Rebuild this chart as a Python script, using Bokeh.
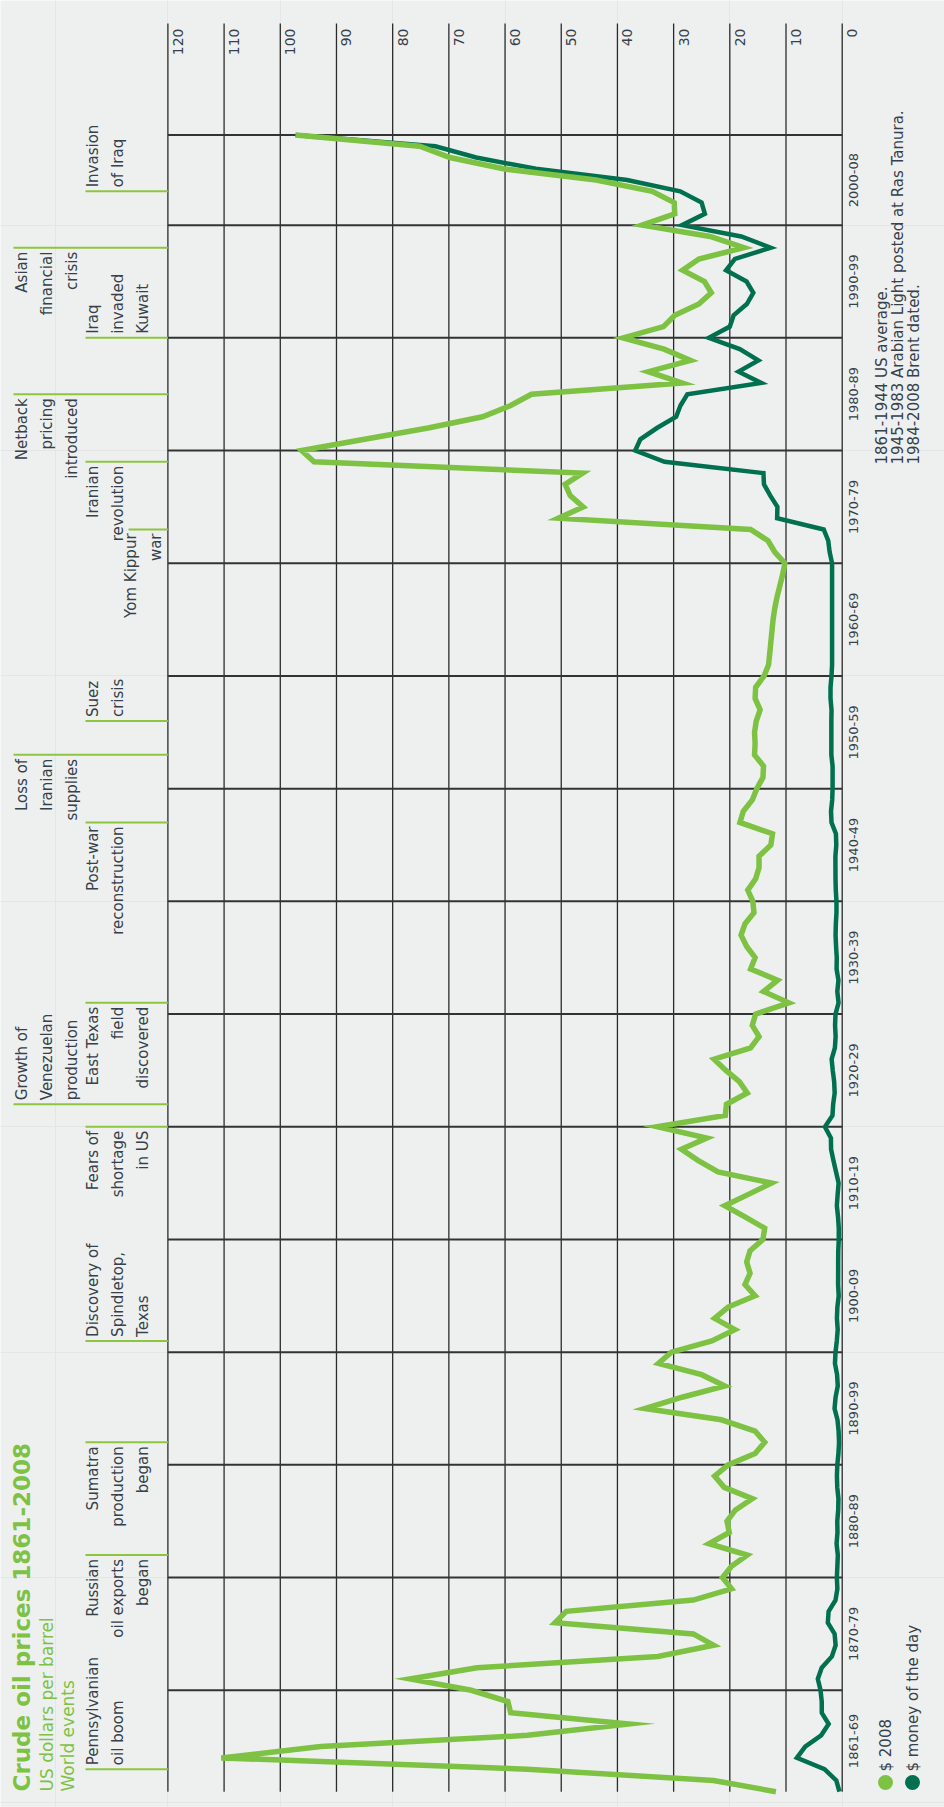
import math
from bokeh.plotting import figure
from bokeh.models import Range1d, ColumnDataSource
from bokeh.core.properties import value
from bokeh.embed import file_html
from bokeh.resources import INLINE

# ---------------- data ----------------
years = list(range(1861, 2009))

usd_2008 = [
    11.8, 22.9, 56.0, 110.5, 92.8, 56.0, 38.0, 59.0, 59.5,            # 1861-69
    66.0, 76.9, 65.0, 32.8, 22.9, 26.5, 51.1, 49.1, 26.5, 19.7,       # 1870-79
    21.3, 19.7, 16.9, 23.7, 20.1, 20.5, 19.0, 16.0, 21.0, 22.7,       # 1880-89
    20.3, 15.5, 13.8, 15.5, 21.5, 35.1, 28.5, 20.9, 25.0, 32.7,       # 1890-99
    30.4, 23.2, 19.1, 22.7, 20.3, 15.5, 17.3, 16.4, 17.0, 16.4,       # 1900-09
    14.1, 13.8, 17.3, 20.9, 16.7, 12.6, 22.1, 25.6, 28.6, 24.1,       # 1910-19
    32.9, 20.8, 20.6, 16.9, 18.3, 20.7, 22.8, 16.3, 14.8, 16.0,       # 1920-29
    15.4, 9.5, 14.0, 11.5, 16.3, 15.5, 17.0, 18.0, 17.3, 15.7,        # 1930-39
    15.9, 16.8, 15.4, 14.8, 14.8, 12.7, 12.4, 18.2, 17.6, 16.0,       # 1940-49
    15.2, 14.1, 14.0, 15.6, 15.5, 15.6, 15.3, 14.6, 15.5, 15.4,       # 1950-59
    13.9, 13.1, 12.9, 12.7, 12.5, 12.3, 12.0, 11.6, 11.1, 10.6,       # 1960-69
    10.2, 12.0, 13.2, 16.3, 50.5, 46.1, 48.4, 49.3, 46.2, 94.0,       # 1970-79
    96.2, 85.0, 73.7, 64.0, 59.0, 55.3, 28.5, 34.5, 27.0, 31.7,       # 1980-89
    39.0, 31.8, 29.8, 25.5, 23.3, 24.5, 28.4, 25.5, 17.5, 23.5,       # 1990-99
    35.6, 29.8, 29.9, 33.8, 43.8, 60.3, 69.8, 75.2, 97.3,             # 2000-08
]

usd_money = [
    0.49, 1.05, 3.15, 8.06, 6.59, 3.74, 2.41, 3.63, 3.64,             # 1861-69
    3.86, 4.34, 3.64, 1.83, 1.17, 1.35, 2.56, 2.42, 1.19, 0.86,       # 1870-79
    0.95, 0.86, 0.78, 1.00, 0.84, 0.88, 0.71, 0.67, 0.88, 0.94,       # 1880-89
    0.87, 0.67, 0.56, 0.64, 0.84, 1.36, 1.18, 0.79, 0.91, 1.29,       # 1890-99
    1.19, 0.96, 0.80, 0.94, 0.86, 0.62, 0.73, 0.72, 0.72, 0.70,       # 1900-09
    0.61, 0.61, 0.74, 0.95, 0.81, 0.64, 1.10, 1.56, 1.98, 2.01,       # 1910-19
    3.07, 1.73, 1.61, 1.34, 1.43, 1.68, 1.88, 1.30, 1.17, 1.27,       # 1920-29
    1.19, 0.65, 0.87, 0.67, 1.00, 0.97, 1.09, 1.18, 1.13, 1.02,       # 1930-39
    1.02, 1.14, 1.19, 1.20, 1.21, 1.05, 1.12, 1.90, 1.99, 1.78,       # 1940-49
    1.71, 1.71, 1.71, 1.93, 1.93, 1.93, 1.93, 1.90, 2.08, 2.08,       # 1950-59
    1.90, 1.80, 1.80, 1.80, 1.80, 1.80, 1.80, 1.80, 1.80, 1.80,       # 1960-69
    1.80, 2.24, 2.48, 3.29, 11.58, 11.53, 12.80, 13.92, 14.02, 31.61, # 1970-79
    36.83, 35.93, 32.97, 29.55, 28.78, 27.56, 14.43, 18.44, 14.92, 18.23,  # 1980-89
    23.73, 20.00, 19.32, 16.97, 15.82, 17.02, 20.67, 19.09, 12.72, 17.97,  # 1990-99
    28.50, 24.44, 25.02, 28.83, 38.27, 54.52, 65.14, 72.39, 97.26,         # 2000-08
]

value_ticks = [0, 10, 20, 30, 40, 50, 60, 70, 80, 90, 100, 110, 120]
value_labels = ["0", "10", "20", "30", "40", "50", "60", "70", "80", "90", "100", "110", "120"]

decade_edges = [1861, 1870, 1880, 1890, 1900, 1910, 1920, 1930, 1940, 1950, 1960, 1970, 1980, 1990, 2000, 2008]
decade_labels = ["1861-69", "1870-79", "1880-89", "1890-99", "1900-09", "1910-19", "1920-29",
                 "1930-39", "1940-49", "1950-59", "1960-69", "1970-79", "1980-89", "1990-99", "2000-08"]

event_years = [1863, 1882, 1892, 1901, 1922, 1920, 1931, 1947, 1953, 1956, 1973, 1979, 1985, 1990, 1998, 2003]
event_labels = [
    "Pennsylvanian\noil boom",
    "Russian\noil exports\nbegan",
    "Sumatra\nproduction\nbegan",
    "Discovery of\nSpindletop,\nTexas",
    "Growth of\nVenezuelan\nproduction",
    "Fears of\nshortage\nin US",
    "East Texas\nfield\ndiscovered",
    "Post-war\nreconstruction",
    "Loss of\nIranian\nsupplies",
    "Suez\ncrisis",
    "Yom Kippur\nwar",
    "Iranian\nrevolution",
    "Netback\npricing\nintroduced",
    "Iraq\ninvaded\nKuwait",
    "Asian\nfinancial\ncrisis",
    "Invasion\nof Iraq",
]

title_text = "Crude oil prices 1861-2008"
subtitle_text = "US dollars per barrel"
events_heading = "World events"
legend_labels = ["$ 2008", "$ money of the day"]
note_lines = ["1861-1944 US average.",
              "1945-1983 Arabian Light posted at Ras Tanura.",
              "1984-2008 Brent dated."]

# ---------------- layout / style ----------------
event_row = [0, 0, 0, 0, 1, 0, 0, 0, 1, 0, 2, 0, 1, 0, 1, 0]
event_side = ["above", "below", "below", "above", "above", "below", "below", "below",
              "below", "above", "below", "below", "below", "above", "below", "above"]
ROW_LINE_PX = {0: 85, 1: 13, 2: 128}
ROW_TEXT_PX = {0: 83, 1: 12, 2: 121}

BG = "#eef0ef"
LIGHT = "#7dc242"
DARK = "#00704f"
EVENT_LINE = "#8cc63f"
TXT = "#36414b"
GRID = "#2b2b2b"
FONT = "DejaVu Sans"

# pixel geometry of the frame (canvas coordinates)
X0_PX = 841.7      # value 0
X120_PX = 167.4    # value 120
Y_TOP_PX = 134.5   # last year line
PX_PER_YEAR = 11.27
PX_PER_VAL = (X0_PX - X120_PX) / 120.0
LAST_YEAR = years[-1]
FIRST_YEAR = years[0]


def vx(px):
    return (X0_PX - px) / PX_PER_VAL


def vy(py):
    return LAST_YEAR - (py - Y_TOP_PX) / PX_PER_YEAR


W, H = 944, 1807
p = figure(width=W, height=H,
           x_range=Range1d(vx(0), vx(W)),
           y_range=Range1d(vy(H), vy(0)),
           output_backend="svg", toolbar_location=None,
           x_axis_location=None, y_axis_location=None,
           min_border=0, min_border_left=0, min_border_right=0,
           min_border_top=0, min_border_bottom=0,
           background_fill_color=BG, border_fill_color=BG,
           outline_line_color=None)

# grid
n_v = len(value_ticks)
p.segment(x0=value_ticks, y0=[vy(23)] * n_v, x1=value_ticks, y1=[FIRST_YEAR] * n_v,
          line_color=GRID, line_width=1.3)
h_lines = decade_edges[1:]
p.segment(x0=[0] * len(h_lines), y0=h_lines, x1=[120] * len(h_lines), y1=h_lines,
          line_color="#333333", line_width=2)

# event marker lines
ev_x0 = [vx(ROW_LINE_PX[r]) for r in event_row]
p.segment(x0=ev_x0, y0=event_years, x1=[120] * len(event_years), y1=event_years,
          line_color=EVENT_LINE, line_width=2)

# event labels
for yr, lab, r, side in zip(event_years, event_labels, event_row, event_side):
    p.text(x=[vx(ROW_TEXT_PX[r])], y=[yr], text=[lab], angle=math.pi / 2,
           y_offset=(-4 if side == "above" else 4),
           text_align=("left" if side == "above" else "right"),
           text_baseline="top", text_line_height=1.4,
           text_font=value(FONT), text_font_size="15px", text_color=TXT)

# data lines
src = ColumnDataSource(data=dict(year=years, usd_2008=usd_2008, usd_money=usd_money))
p.line(x="usd_money", y="year", source=src, line_color=DARK, line_width=4.5, line_join="miter")
p.line(x="usd_2008", y="year", source=src, line_color=LIGHT, line_width=5.5, line_join="miter")

# value labels (top)
p.text(x=value_ticks, y=[vy(28)] * n_v, text=value_labels, angle=math.pi / 2,
       x_offset=10, text_align="right", text_baseline="middle",
       text_font=value(FONT), text_font_size="14px", text_color=TXT)

# decade labels (right)
centers = [(a + b) / 2 for a, b in zip(decade_edges[:-1], decade_edges[1:])]
p.text(x=[0] * len(centers), y=centers, text=decade_labels, angle=math.pi / 2,
       x_offset=11, text_align="center", text_baseline="middle",
       text_font=value(FONT), text_font_size="13px", text_color=TXT)

# notes
p.text(x=[vx(881), vx(897), vx(913)], y=[vy(464)] * 3, text=note_lines, angle=math.pi / 2,
       text_align="left", text_baseline="middle",
       text_font=value(FONT), text_font_size="15px", text_color=TXT)

# legend
p.scatter(x=[vx(885), vx(912)], y=[vy(1782)] * 2, size=15,
          fill_color=[LIGHT, DARK], line_color=None)
p.text(x=[vx(885), vx(912)], y=[vy(1771)] * 2, text=legend_labels, angle=math.pi / 2,
       text_align="left", text_baseline="middle",
       text_font=value(FONT), text_font_size="15px", text_color=TXT)

# title block
p.text(x=[vx(21)], y=[vy(1791)], text=[title_text], angle=math.pi / 2,
       text_align="left", text_baseline="middle",
       text_font=value(FONT), text_font_style="bold", text_font_size="23px", text_color=LIGHT)
p.text(x=[vx(46), vx(67)], y=[vy(1791)] * 2, text=[subtitle_text, events_heading], angle=math.pi / 2,
       text_align="left", text_baseline="middle",
       text_font=value(FONT), text_font_size="17px", text_color=LIGHT)

open("out.html", "w").write(file_html(p, INLINE))
